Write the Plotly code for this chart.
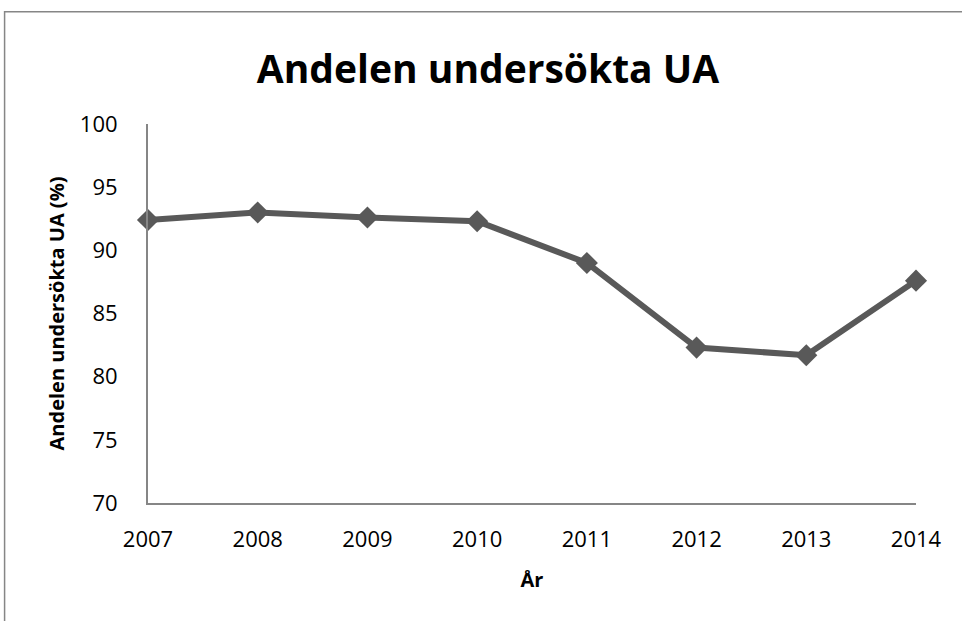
import plotly.graph_objects as go

years = [2007, 2008, 2009, 2010, 2011, 2012, 2013, 2014]
values = [92.4, 93.0, 92.6, 92.3, 89.0, 82.3, 81.7, 87.6]
y_ticks = [70, 75, 80, 85, 90, 95, 100]

W, H = 962, 621
L, R, T, B = 147.5, 46, 123.5, 117.5
pw, ph = W - L - R, H - T - B

FONT = "Open Sans"
GRAY = "#868686"

fig = go.Figure()
fig.add_trace(go.Scatter(
    x=years, y=values, mode="lines+markers",
    line=dict(color="#595959", width=6),
    marker=dict(symbol="diamond", size=17, color="#595959"),
    cliponaxis=False, showlegend=False,
))

fig.update_layout(
    width=W, height=H,
    margin=dict(l=L, r=R, t=T, b=B, pad=0),
    paper_bgcolor="white", plot_bgcolor="white",
    font=dict(family=FONT, color="black"),
    title=dict(text="<b>Andelen undersökta UA</b>", font=dict(size=39, family=FONT),
               x=488 / W, xanchor="center", y=1 - 69 / H, yanchor="middle"),
    xaxis=dict(range=[2007, 2014], tickvals=years, ticktext=[str(y) for y in years],
               showgrid=False, zeroline=False, showline=True, linecolor=GRAY, linewidth=2,
               ticks="", ticklabelstandoff=16, tickfont=dict(size=22),
               title=dict(text="<b>År</b>", font=dict(size=20), standoff=21)),
    yaxis=dict(range=[70, 100], tickvals=y_ticks, showgrid=False, zeroline=False,
               showline=True, linecolor=GRAY, linewidth=2, ticks="",
               ticklabelstandoff=24, tickfont=dict(size=22),
               title=dict(text="<b>Andelen undersökta UA (%)</b>", font=dict(size=20), standoff=10)),
)

# outer chart frame (extends beyond right and bottom edges)
x0 = (4 - L) / pw
y1 = (H - B - 11) / ph
fig.add_shape(type="rect", xref="paper", yref="paper",
              x0=x0, x1=(W + 10 - L) / pw, y0=-(B + 10) / ph, y1=y1,
              line=dict(color=GRAY, width=1.5), fillcolor="rgba(0,0,0,0)", layer="below")

fig.write_html("out.html", config={"displayModeBar": False},
               post_script="document.body.style.margin='0';document.body.style.overflow='hidden';")
